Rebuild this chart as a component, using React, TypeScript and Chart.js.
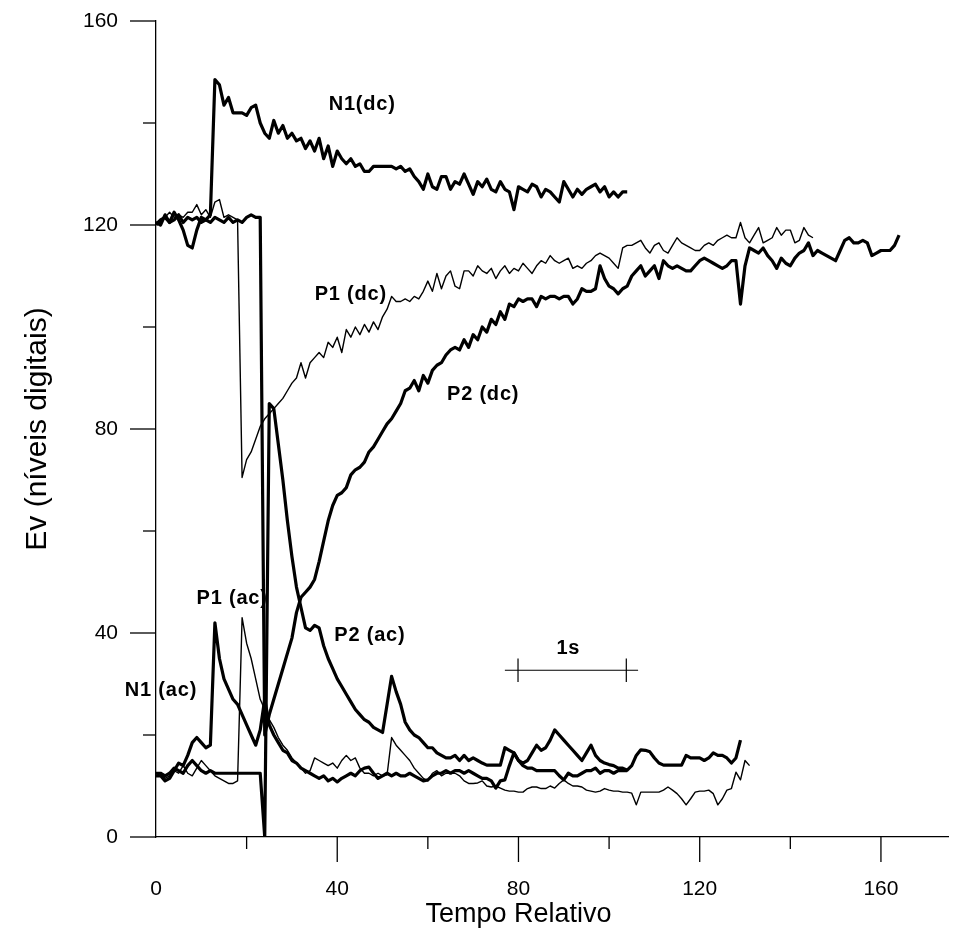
import React, { useEffect, useRef } from "react";
import { Chart, registerables } from "chart.js";

Chart.register(...registerables);

const FONT = "'Liberation Sans', Arial, Helvetica, sans-serif";

// Sample values, one per unit of "Tempo Relativo" starting at 0
const N1_DC = [
  120.5, 120, 122, 120.5, 122.5, 121, 119, 116, 115.5, 119,
  121.5, 121, 122, 148.5, 147.5, 143.5, 145, 142, 142, 142,
  141.5, 143, 143.5, 140, 138, 137, 140.5, 138, 139.5, 137,
  138, 136.5, 137, 135, 136.5, 134.5, 137, 133, 135.5, 131.5,
  134.5, 133, 132, 133, 131.5, 132, 130.5, 130.5, 131.5, 131.5,
  131.5, 131.5, 131.5, 131, 131.5, 130.5, 131, 129.5, 128.5, 127,
  130, 127.5, 127, 129.5, 129.5, 127, 128.5, 128, 130, 128,
  126, 128.5, 127.5, 129, 127, 126.5, 128.5, 127, 126.5, 123,
  127.5, 127, 126.5, 128, 127.5, 125.5, 127, 126.5, 125.5, 124.5,
  128.5, 127, 125.5, 127, 126, 127, 127.5, 128, 126.5, 127.5,
  125.5, 126.5, 125.5, 126.5, 126.5,
];

const P1_DC = [
  120.5, 121, 121.5, 122.5, 121.5, 122, 121.5, 122.5, 122.5, 124,
  122, 123, 121.5, 124.5, 125, 121.5, 122, 121.5, 121, 70.5,
  74, 75.5, 78, 80.5, 82, 83, 84, 85, 86, 87.5,
  89, 90, 93, 90, 93, 94, 95, 94, 97, 96,
  98, 95, 99.5, 98, 100, 98.5, 100.5, 99, 101, 99.5,
  102, 103.5, 106, 105, 105, 105.5, 105, 106, 105.5, 107,
  109, 107, 110.5, 107.5, 110, 111, 108, 107.5, 111, 111,
  110, 112, 111, 110.5, 111.5, 109.5, 111, 112, 110.5, 111.5,
  111, 112.5, 111.5, 110.5, 112, 113, 112.5, 114, 113, 112.5,
  113, 113.5, 111.5, 112, 111.5, 112.5, 113, 114, 114.5, 114,
  113.5, 112.5, 111.5, 115.5, 116, 116, 116.5, 117, 115.5, 114.5,
  116, 116.5, 115, 114.5, 116, 117.5, 116.5, 116, 115.5, 115,
  115, 116, 116.5, 116, 117, 117.5, 118, 117.5, 117.5, 120.5,
  117.5, 116.5, 118, 119.5, 116.5, 117, 117.5, 119.5, 118, 119,
  119, 116.5, 117, 119.5, 118, 117.5,
];

const P2_DC = [
  120, 121, 121.5, 120.5, 121, 122, 120.5, 121.5, 121, 121.5,
  120.5, 121, 120.5, 121.5, 121, 120.5, 121.5, 120.5, 121, 120.5,
  121.5, 122, 121.5, 121.5, 20, 24, 27, 30, 33, 36,
  39, 44, 47, 48, 49, 50.5, 54, 58, 62, 65,
  67, 67.5, 68.5, 71, 72, 72.5, 73.5, 75.5, 76.5, 78,
  79.5, 81, 82, 83.5, 85, 87.5, 88, 89.5, 87.5, 90.5,
  89, 91.5, 92.5, 93, 94.5, 95.5, 96, 95.5, 97.5, 96,
  98.5, 97.5, 100, 99, 101.5, 100.5, 103, 101.5, 104.5, 104,
  105.5, 105, 105.5, 105.5, 104, 106, 105.5, 106, 106, 105.5,
  106, 106, 104.5, 105.5, 107.5, 107, 107, 107.5, 112, 109.5,
  108, 107.5, 106.5, 107.5, 108, 110, 111, 112, 110, 111,
  112, 109.5, 113, 112, 111.5, 112, 111.5, 111, 111, 112,
  113, 113.5, 113, 112.5, 112, 111.5, 112, 113, 113, 104.5,
  112, 115.5, 115, 114.5, 115.5, 114, 113, 111.5, 113.5, 112.5,
  112, 113.5, 114.5, 115, 116.5, 114, 115, 114.5, 114, 113.5,
  113, 115, 117, 117.5, 116.5, 116.5, 117, 116.5, 114, 114.5,
  115, 115, 115, 116, 118,
];

const N1_AC = [
  12, 12, 11, 11.5, 13, 14.5, 14, 16, 18.5, 19.5,
  18.5, 17.5, 18, 42, 35, 31, 29, 27, 26, 24,
  22, 20, 18, 21, 27, 22, 20, 18.5, 17, 16.5,
  15, 14.5, 13.5, 13, 12.5, 12, 11.5, 12, 11, 11.5,
  10.8, 11.5, 12, 12.5, 12, 13, 13.5, 13.7, 12.5, 11.5,
  12, 12.5, 12, 12.5, 12, 12, 12.5, 12, 11.5, 11,
  11.2, 12, 12.5, 12.5, 13, 12.5, 13, 13, 12.5, 13,
  12.5, 12, 11.5, 11.5, 11, 9.6, 11, 11.2, 14, 16.5,
  15, 14, 13.5, 13.5, 13, 13, 13, 13, 13, 12,
  11.2, 12.5, 12, 12, 12.5, 13, 13, 13.5, 12.5, 13,
  13, 12.5, 13, 13, 13,
];

const P1_AC = [
  12, 12.5, 11.5, 12, 13, 12.5, 14, 12.5, 12, 13.5,
  15, 14, 13, 12, 11.5, 11, 10.5, 10.5, 11, 43,
  38, 35, 31, 27, 25, 23, 21.5, 19.5, 18, 17,
  15.5, 14.5, 13.5, 12.5, 13, 15.5, 15, 14.5, 14, 14.5,
  13.5, 15, 16, 15, 15.5, 13.5, 12.5, 12.5, 12, 12.5,
  12, 12.2, 19.5, 18, 17, 16, 15, 13.5, 12.5, 11.5,
  11, 12.5, 13, 12, 12.5, 12.5, 12.5, 12, 11, 10.5,
  10.5, 10.6, 11, 10, 9.8, 10, 9.6, 9.2, 9, 9,
  8.8, 8.8, 9.5, 9.8, 9.8, 9.5, 9.5, 10, 9.6, 10.5,
  11.2, 10.5, 10, 10, 9.8, 9.2, 9, 8.8, 9, 9.5,
  9.2, 9, 9, 8.8, 8.8, 8.6, 6.3, 8.8, 8.8, 8.8,
  8.8, 8.8, 9.2, 9.8, 9.2, 8.5, 7.5, 6.3, 7.5, 8.8,
  9, 9, 9.2, 8.5, 6.3, 7.5, 9.2, 9.5, 12.7, 11.2,
  15, 14,
];

const P2_AC = [
  12.5, 12.5, 12, 12.5, 13.5, 13, 12.5, 14, 15, 14,
  13, 12.5, 13, 12.5, 12.5, 12.5, 12.5, 12.5, 12.5, 12.5,
  12.5, 12.5, 12.5, 12.5, 0, 85, 84, 77, 70, 62,
  55, 49, 45, 41, 40.5, 41.5, 41, 37.5, 35, 33,
  31, 29.5, 28, 26.5, 25, 24, 23, 22.5, 21.5, 21,
  20.5, 26, 31.5, 28.5, 26, 22.5, 21, 20, 19.5, 18.5,
  17.5, 17.5, 16.5, 16, 15.5, 15.5, 16, 15, 16, 15,
  15.5, 15, 14.5, 14.1, 14.1, 14.1, 14.1, 17.5, 17, 16.5,
  15, 14.5, 15, 16.5, 18, 17, 17.5, 19, 21, 20,
  19, 18, 17, 16, 15, 16.5, 18, 16, 15, 14.5,
  14.2, 14, 13.5, 13.5, 13.1, 14, 16, 17.1, 17, 16.7,
  15.5, 14.5, 14.1, 14.1, 14.1, 14.1, 14.1, 16, 15.5, 15.5,
  15.5, 15, 15.5, 16.5, 16, 16, 15.5, 14.5, 15.5, 19,
];

// Axis ticks
const X_MIN = 0;
const X_MAX = 174.8;
const Y_MIN = 0;
const Y_MAX = 160;
const X_LABELED = [0, 40, 80, 120, 160];
const Y_LABELED = [0, 40, 80, 120, 160];
const X_MAJOR = [40, 80, 120, 160];
const X_MINOR = [20, 60, 100, 140];
const Y_MAJOR = [0, 40, 80, 120, 160];
const Y_MINOR = [20, 60, 100, 140];

const X_TITLE = "Tempo Relativo";
const X_TITLE_AT = 80; // data units, centre of the title
const Y_TITLE = "Ev (níveis digitais)";

// Curve labels (text and their anchor in data units)
const LABEL_TEXT = ["N1(dc)", "P1 (dc)", "P2 (dc)", "P1 (ac)", "P2 (ac)", "N1 (ac)", "1s"];
const LABEL_X = [45.5, 43, 72.2, 16.8, 47.2, 1.1, 91];
const LABEL_Y = [143.7, 106.3, 86.7, 46.7, 39.6, 28.8, 37];

// "1s" time scale bar (data units)
const BAR_X = [77, 106.4];
const BAR_Y = 32.7;
const BAR_TICK_X = [79.9, 103.8];
const BAR_TICK_Y = [30.4, 35];

const toPoints = (vals: number[]) => vals.map((y, i) => ({ x: i, y }));

const decorPlugin = {
  id: "decor",
  afterDraw(chart: any) {
    const { ctx } = chart;
    const xs = chart.scales.x;
    const ys = chart.scales.y;
    ctx.save();
    ctx.strokeStyle = "#000";
    ctx.lineWidth = 1.3;
    const x0 = xs.getPixelForValue(X_MIN);
    const y0 = ys.getPixelForValue(Y_MIN);
    const line = (a: number, b: number, c: number, d: number) => {
      ctx.beginPath();
      ctx.moveTo(a, b);
      ctx.lineTo(c, d);
      ctx.stroke();
    };
    Y_MAJOR.forEach((v) => {
      const p = ys.getPixelForValue(v);
      line(x0 - 26, p, x0, p);
    });
    Y_MINOR.forEach((v) => {
      const p = ys.getPixelForValue(v);
      line(x0 - 13, p, x0, p);
    });
    X_MAJOR.forEach((v) => {
      const p = xs.getPixelForValue(v);
      line(p, y0, p, y0 + 25);
    });
    X_MINOR.forEach((v) => {
      const p = xs.getPixelForValue(v);
      line(p, y0, p, y0 + 12);
    });
    ctx.fillStyle = "#000";
    ctx.textAlign = "center";
    ctx.textBaseline = "middle";
    ctx.font = `27px ${FONT}`;
    ctx.fillText(X_TITLE, xs.getPixelForValue(X_TITLE_AT), y0 + 78);
    ctx.font = `bold 20px ${FONT}`;
    (ctx as any).letterSpacing = "0.8px";
    LABEL_TEXT.forEach((t, i) => {
      ctx.fillText(t, xs.getPixelForValue(LABEL_X[i]), ys.getPixelForValue(LABEL_Y[i]));
    });
    ctx.restore();
  },
};

export default function App() {
  const ref = useRef<HTMLCanvasElement | null>(null);

  useEffect(() => {
    document.body.style.margin = "0";
    const canvas = ref.current;
    if (!canvas) return;

    const thick = { borderColor: "#000", borderWidth: 3.2, pointRadius: 0, tension: 0, borderJoinStyle: "round" as const, fill: false };
    const thin = { borderColor: "#000", borderWidth: 1.4, pointRadius: 0, tension: 0, borderJoinStyle: "round" as const, fill: false };

    const barData = [
      { x: BAR_X[0], y: BAR_Y },
      { x: BAR_X[1], y: BAR_Y },
      { x: BAR_X[1], y: NaN },
      { x: BAR_TICK_X[0], y: BAR_TICK_Y[0] },
      { x: BAR_TICK_X[0], y: BAR_TICK_Y[1] },
      { x: BAR_TICK_X[0], y: NaN },
      { x: BAR_TICK_X[1], y: BAR_TICK_Y[0] },
      { x: BAR_TICK_X[1], y: BAR_TICK_Y[1] },
    ];

    const chart = new Chart(canvas, {
      type: "line",
      data: {
        datasets: [
          { label: "N1(dc)", data: toPoints(N1_DC), ...thick },
          { label: "P1 (dc)", data: toPoints(P1_DC), ...thin },
          { label: "P2 (dc)", data: toPoints(P2_DC), ...thick },
          { label: "N1 (ac)", data: toPoints(N1_AC), ...thick },
          { label: "P1 (ac)", data: toPoints(P1_AC), ...thin },
          { label: "P2 (ac)", data: toPoints(P2_AC), ...thick },
          { label: "1s", data: barData, borderColor: "#000", borderWidth: 1.2, pointRadius: 0, spanGaps: false, fill: false },
        ],
      },
      options: {
        responsive: false,
        animation: false,
        devicePixelRatio: 1,
        layout: { autoPadding: false, padding: { left: 0, right: 20, top: 21, bottom: 0 } },
        plugins: { legend: { display: false }, tooltip: { enabled: false } },
        scales: {
          x: {
            type: "linear",
            min: X_MIN,
            max: X_MAX,
            afterBuildTicks: (s: any) => {
              s.ticks = X_LABELED.map((v) => ({ value: v }));
            },
            afterFit: (s: any) => {
              s.height = 102;
              s.paddingLeft = 0;
              s.paddingRight = 0;
            },
            grid: { display: false, drawTicks: false },
            border: { display: true, color: "#000", width: 1.3 },
            ticks: {
              autoSkip: false,
              maxRotation: 0,
              padding: 40,
              color: "#000",
              font: { family: FONT, size: 21 },
              callback: (v: any) => String(v),
            },
          },
          y: {
            min: Y_MIN,
            max: Y_MAX,
            afterBuildTicks: (s: any) => {
              s.ticks = Y_LABELED.map((v) => ({ value: v }));
            },
            afterFit: (s: any) => {
              s.width = 156;
              s.paddingTop = 0;
              s.paddingBottom = 0;
            },
            grid: { display: false, drawTicks: false },
            border: { display: true, color: "#000", width: 1.3 },
            ticks: {
              padding: 38,
              color: "#000",
              font: { family: FONT, size: 21 },
              callback: (v: any) => String(v),
            },
            title: {
              display: true,
              text: Y_TITLE,
              color: "#000",
              font: { family: FONT, size: 30 },
              padding: { top: 20, bottom: 0 },
            },
          },
        },
      },
      plugins: [decorPlugin],
    });

    return () => chart.destroy();
  }, []);

  return (
    <div style={{ width: 968, height: 939, background: "#fff" }}>
      <canvas ref={ref} width={968} height={939} style={{ display: "block" }} />
    </div>
  );
}
